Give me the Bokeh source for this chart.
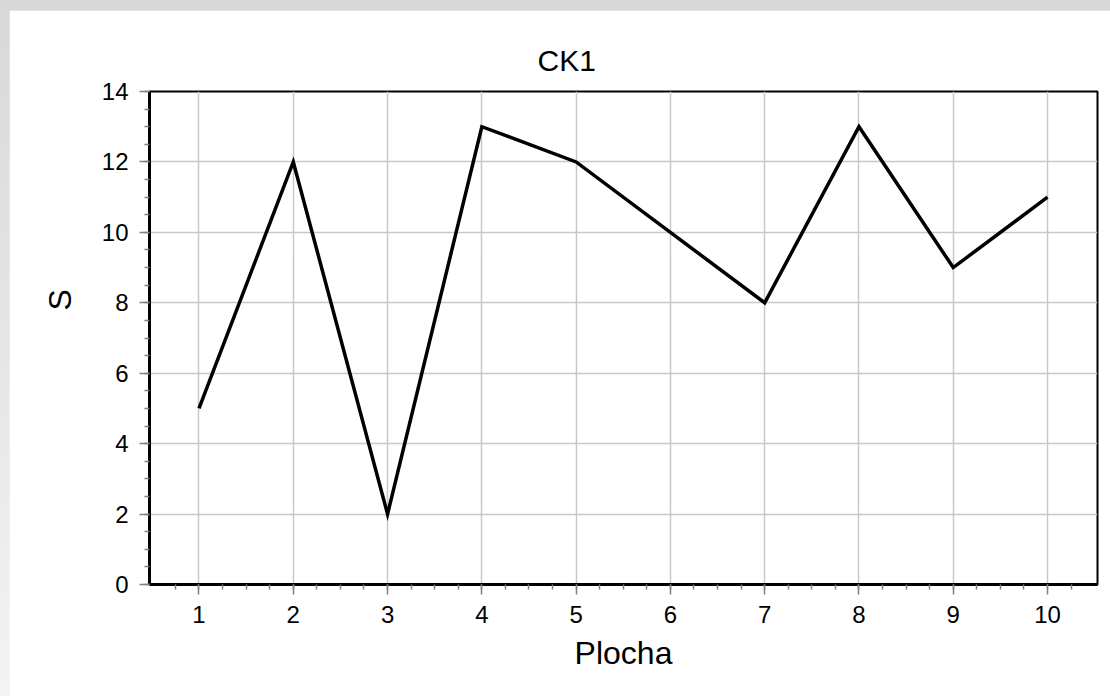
from bokeh.plotting import figure
from bokeh.models import Range1d, FixedTicker, SingleIntervalTicker, Title, GlobalInlineStyleSheet
from bokeh.embed import file_html
from bokeh.resources import INLINE

# ---- data ----
plocha = [1, 2, 3, 4, 5, 6, 7, 8, 9, 10]
s_values = [5, 12, 2, 13, 12, 10, 8, 13, 9, 11]
x_tick_values = [1, 2, 3, 4, 5, 6, 7, 8, 9, 10]
x_minor_ticks = [0.75 + 0.25 * i for i in range(39)]
title_text = "CK1"
x_label = "Plocha"
y_label = "S"

FONT = "Liberation Sans"

p = figure(
    width=1101, height=686,
    x_range=Range1d(0.475, 10.53), y_range=Range1d(0, 14),
    output_backend="svg", toolbar_location=None,
    min_border_left=140, min_border_right=13,
    min_border_top=81, min_border_bottom=112,
    background_fill_color="white", border_fill_color="white",
)
p.styles = {"margin-left": "9px", "margin-top": "10px"}
p.stylesheets = [GlobalInlineStyleSheet(css="body { background: linear-gradient(#d8d8d8, #f3f3f3); }")]

p.line(plocha, s_values, line_color="black", line_width=3.5, line_join="miter")

p.xaxis.ticker = FixedTicker(ticks=x_tick_values, minor_ticks=x_minor_ticks)
p.yaxis.ticker = SingleIntervalTicker(interval=2, num_minor_ticks=4)
p.xaxis.axis_label = x_label

for ax in p.axis:
    ax.axis_line_color = "black"
    ax.axis_line_width = 3
    ax.major_tick_line_color = "#808080"
    ax.major_tick_line_width = 1.5
    ax.minor_tick_line_color = "#808080"
    ax.minor_tick_line_width = 1.5
    ax.major_tick_in = 0
    ax.major_tick_out = 10
    ax.minor_tick_in = 0
    ax.minor_tick_out = 5
    ax.major_label_text_font = FONT
    ax.major_label_text_font_size = "24px"
    ax.major_label_text_color = "black"
    ax.axis_label_text_font = FONT
    ax.axis_label_text_font_size = "32px"
    ax.axis_label_text_font_style = "normal"
    ax.axis_label_text_color = "black"

p.xaxis.major_label_standoff = 11
p.yaxis.major_label_standoff = 11
p.xaxis.axis_label_standoff = 9

p.xgrid.grid_line_color = "#c8c8c8"
p.xgrid.grid_line_width = 1.5
p.ygrid.grid_line_color = "#c8c8c8"
p.ygrid.grid_line_width = 1.5

p.outline_line_color = "black"
p.outline_line_width = 2
p.outline_line_alpha = 1

p.add_layout(Title(text=title_text, align="left", offset=388, standoff=29,
                   text_font=FONT, text_font_size="30px", text_font_style="normal",
                   text_color="black"), "above")
p.add_layout(Title(text=y_label, align="left", offset=274, standoff=38,
                   vertical_align="top",
                   text_font=FONT, text_font_size="32px", text_font_style="normal",
                   text_color="black"), "left")

open("out.html", "w").write(file_html(p, INLINE))
